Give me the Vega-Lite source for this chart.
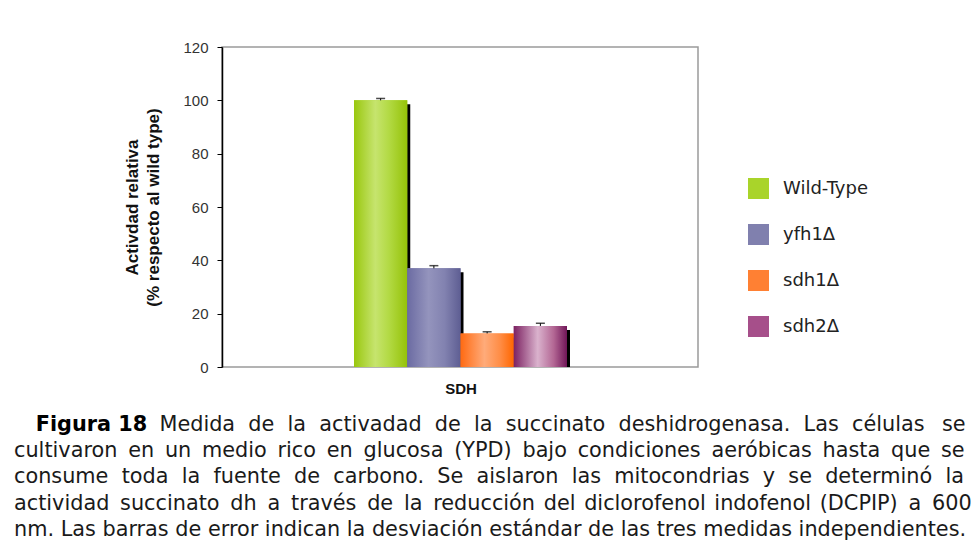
{
  "$schema": "https://vega.github.io/schema/vega-lite/v6.json",
  "width": 476,
  "height": 320,
  "autosize": {"type": "none"},
  "padding": {"left": 222, "top": 47, "right": 282, "bottom": 181},
  "background": "#ffffff",
  "data": {
    "values": [
      {"assay": "SDH", "strain": "Wild-Type", "value": 100, "upper": 100.7},
      {"assay": "SDH", "strain": "yfh1Δ", "value": 37, "upper": 38},
      {"assay": "SDH", "strain": "sdh1Δ", "value": 12.6, "upper": 13.2},
      {"assay": "SDH", "strain": "sdh2Δ", "value": 15.4, "upper": 16.4}
    ]
  },
  "title": {
    "text": "\u200b\u00a0\u00a0\u00a0Figura 18",
    "subtitle": [
      "\u200b\u00a0\u00a0\u00a0\u00a0\u00a0\u00a0\u00a0\u00a0\u00a0\u00a0\u00a0\u00a0\u00a0\u00a0\u00a0\u00a0\u00a0\u00a0\u00a0\u00a0\u00a0\u00a0Medida \u00a0de \u00a0la \u00a0activadad \u00a0de \u00a0la \u00a0succinato \u00a0deshidrogenasa. \u00a0Las \u00a0células \u00a0\u2009se",
      "cultivaron \u2009en \u2009un \u2009medio \u2009rico \u2009en \u2009glucosa \u2009(YPD) \u2009bajo \u2009condiciones \u2009aeróbicas \u2009hasta \u2009que \u2009se",
      "consume \u00a0toda \u00a0la \u00a0fuente \u00a0de \u00a0carbono. \u00a0Se \u00a0aislaron \u00a0las \u00a0mitocondrias \u00a0y \u00a0se \u00a0determinó \u00a0la",
      "actividad \u2009succinato \u2009dh \u2009a \u2009través \u2009de \u2009la \u2009reducción \u200adel \u200adiclorofenol \u200aindofenol \u200a(DCPIP) \u2009a \u2009600",
      "nm. Las barras de error indican la desviación estándar de las tres medidas independientes."
    ],
    "orient": "bottom",
    "anchor": "start",
    "frame": "group",
    "dx": -208,
    "offset": 19,
    "font": "DejaVu Sans",
    "fontSize": 20.8,
    "fontWeight": "bold",
    "color": "#000000",
    "subtitleFont": "DejaVu Sans",
    "subtitleFontSize": 20.8,
    "subtitleFontWeight": "normal",
    "subtitleColor": "#1a1a1a",
    "subtitleLineHeight": 26.3,
    "subtitlePadding": -21
  },
  "encoding": {
    "x": {
      "field": "strain",
      "type": "nominal",
      "sort": ["Wild-Type", "yfh1Δ", "sdh1Δ", "sdh2Δ"],
      "scale": {"paddingInner": 0, "paddingOuter": 0, "range": [132, 345]},
      "axis": {
        "title": "SDH",
        "titleFont": "Liberation Sans",
        "titleFontSize": 15,
        "titleFontWeight": "bold",
        "titleColor": "#111111",
        "titlePadding": 14,
        "labels": false,
        "ticks": false,
        "domain": false
      }
    }
  },
  "layer": [
    {
      "mark": {"type": "bar", "color": "#000000", "xOffset": 3, "x2Offset": 3, "yOffset": 4, "y2Offset": 0},
      "encoding": {
        "y": {"field": "value", "type": "quantitative"},
        "y2": {"datum": 0}
      }
    },
    {
      "mark": {"type": "bar"},
      "encoding": {
        "y": {
          "field": "value",
          "type": "quantitative",
          "scale": {"domain": [0, 120], "nice": false},
          "axis": {
            "title": ["Activdad relativa", "(% respecto al wild type)"],
            "titleFont": "Liberation Sans",
            "titleFontSize": 17,
            "titleFontWeight": "bold",
            "titleColor": "#111111",
            "titleLineHeight": 21,
            "titleAngle": -90,
            "titleBaseline": "alphabetic",
            "titleAlign": "center",
            "titleX": -85,
            "titleY": 160,
            "values": [0, 20, 40, 60, 80, 100, 120],
            "grid": false,
            "domainColor": "#000000",
            "domainWidth": 1.5,
            "tickColor": "#000000",
            "tickSize": 5,
            "labelFont": "Liberation Sans",
            "labelFontSize": 15,
            "labelColor": "#333333",
            "labelPadding": 9
          }
        },
        "color": {
          "field": "strain",
          "type": "nominal",
          "sort": ["Wild-Type", "yfh1Δ", "sdh1Δ", "sdh2Δ"],
          "scale": {
            "domain": ["Wild-Type", "yfh1Δ", "sdh1Δ", "sdh2Δ"],
            "range": ["#a9d42a", "#8080ae", "#ff8033", "#a64f8a"]
          },
          "legend": {
            "title": null,
            "orient": "none",
            "legendX": 526,
            "legendY": 131,
            "padding": 0,
            "symbolType": "square",
            "symbolSize": 441,
            "symbolStrokeWidth": 0,
            "labelFont": "DejaVu Sans",
            "labelFontSize": 18,
            "labelColor": "#222222",
            "labelOffset": 14,
            "rowPadding": 25
          }
        }
      }
    },
    {
      "mark": {"type": "bar"},
      "encoding": {
        "y": {"field": "value", "type": "quantitative"},
        "fill": {
          "condition": [
            {
              "test": "datum.strain === 'Wild-Type'",
              "value": {
                "gradient": "linear", "x1": 0, "y1": 0, "x2": 1, "y2": 0,
                "stops": [
                  {"offset": 0, "color": "#99c70e"},
                  {"offset": 0.4, "color": "#c6e46e"},
                  {"offset": 0.65, "color": "#b3da45"},
                  {"offset": 1, "color": "#95c208"}
                ]
              }
            },
            {
              "test": "datum.strain === 'yfh1Δ'",
              "value": {
                "gradient": "linear", "x1": 0, "y1": 0, "x2": 1, "y2": 0,
                "stops": [
                  {"offset": 0, "color": "#6b6ba2"},
                  {"offset": 0.4, "color": "#9494bd"},
                  {"offset": 0.7, "color": "#8282b0"},
                  {"offset": 1, "color": "#5e5e93"}
                ]
              }
            },
            {
              "test": "datum.strain === 'sdh1Δ'",
              "value": {
                "gradient": "linear", "x1": 0, "y1": 0, "x2": 1, "y2": 0,
                "stops": [
                  {"offset": 0, "color": "#ff6a12"},
                  {"offset": 0.45, "color": "#ffab7a"},
                  {"offset": 0.75, "color": "#ff8c44"},
                  {"offset": 1, "color": "#ff6600"}
                ]
              }
            }
          ],
          "value": {
            "gradient": "linear", "x1": 0, "y1": 0, "x2": 1, "y2": 0,
            "stops": [
              {"offset": 0, "color": "#7c2262"},
              {"offset": 0.45, "color": "#dab2cd"},
              {"offset": 0.75, "color": "#b36794"},
              {"offset": 1, "color": "#701658"}
            ]
          }
        }
      }
    },
    {
      "mark": {"type": "rule", "color": "#000000", "strokeWidth": 1},
      "encoding": {
        "y": {"field": "value", "type": "quantitative"},
        "y2": {"field": "upper"}
      }
    },
    {
      "mark": {"type": "tick", "orient": "horizontal", "color": "#000000", "size": 9, "thickness": 1.5},
      "encoding": {
        "y": {"field": "upper", "type": "quantitative"}
      }
    }
  ],
  "config": {
    "view": {"stroke": "#9a9a9a", "strokeWidth": 1.5}
  }
}
